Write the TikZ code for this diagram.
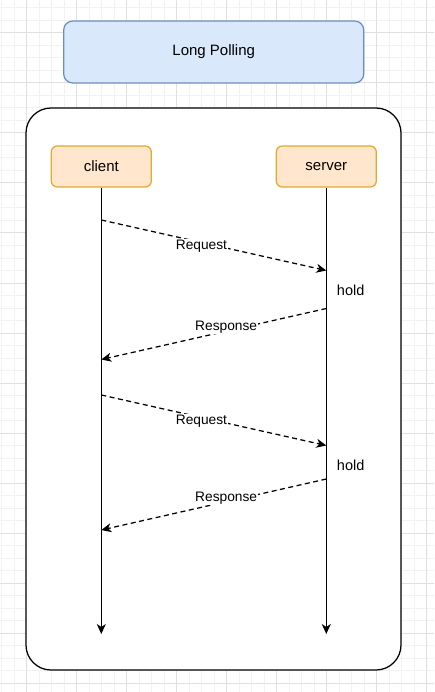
\documentclass[tikz,border=0pt]{standalone}
\usepackage{xcolor}
\usepackage{fontspec}
\setmainfont{Liberation Sans}
\usepackage{tikz}
\usetikzlibrary{arrows.meta, positioning}

\definecolor{titlefill}{HTML}{DAE8FC}
\definecolor{titledraw}{HTML}{6C8EBF}
\definecolor{actorfill}{HTML}{FFE6CC}
\definecolor{actordraw}{HTML}{E0AA2E}
\definecolor{gridminor}{HTML}{F2F2F2}
\definecolor{gridmajor}{HTML}{E0E0E0}

\begin{document}
\begin{tikzpicture}[
        x=1pt, y=-1pt,
        title/.style={rectangle, rounded corners=9pt, draw=titledraw, fill=titlefill, line width=1.25pt, minimum width=300pt, minimum height=62pt, font=\fontsize{15}{18}\selectfont},
        frame/.style={rectangle, rounded corners=25pt, draw=black, fill=white, line width=1.25pt, minimum width=375pt, minimum height=562pt},
        actor/.style={rectangle, rounded corners=6pt, draw=actordraw, fill=actorfill, line width=1.25pt, minimum width=100pt, minimum height=41pt, font=\fontsize{15}{18}\selectfont},
        life/.style={-{Stealth[length=10pt, width=9pt, inset=3pt]}, line width=1.25pt},
        msg/.style={-{Stealth[length=10pt, width=9pt, inset=3pt]}, dash pattern=on 5pt off 3.5pt, line width=1.25pt},
        lbl/.style={fill=white, inner sep=0.5pt, font=\fontsize{13.75}{16}\selectfont},
        holdtxt/.style={font=\fontsize{14.5}{17}\selectfont}
    ]
    \useasboundingbox (0,0) rectangle (434,692);

    % --- Background grid ---
    \fill[white] (0,0) rectangle (434,692);
    \foreach \gx in {1.7,14.2,...,434} \draw[gridminor, line width=1pt] (\gx,0) -- (\gx,692);
    \foreach \gy in {8,20.5,...,692} \draw[gridminor, line width=1pt] (0,\gy) -- (434,\gy);
    \foreach \gx in {26.7,76.7,...,434} \draw[gridmajor, line width=1pt] (\gx,0) -- (\gx,692);
    \foreach \gy in {33,83,...,692} \draw[gridmajor, line width=1pt] (0,\gy) -- (434,\gy);

    % --- Nodes ---
    \node[title] (polling) at (213.7,52) {Long Polling};
    \node[frame] (box) at (213.5,389) {};

    \node[actor] (client) at (101.3,166.5) {client};
    \node[actor, right=123.75pt of client] (server) {server};

    % lifeline ends
    \coordinate (clientEnd) at (101.3,634);
    \coordinate (serverEnd) at (326.3,634);

    % message end points
    \coordinate (req1a) at (101.3,220);
    \coordinate (req1b) at (326.3,270.5);
    \coordinate (res1a) at (326.3,308.5);
    \coordinate (res1b) at (101.3,359.5);
    \coordinate (req2a) at (101.3,395);
    \coordinate (req2b) at (326.3,445.5);
    \coordinate (res2a) at (326.3,479);
    \coordinate (res2b) at (101.3,530);

    % hold
    \node[holdtxt] (hold1) at (350.7,290) {hold};
    \node[holdtxt] (hold2) at (350.7,465) {hold};

    % --- Lifelines ---
    \draw[life] (client) -- (clientEnd);
    \draw[life] (server) -- (serverEnd);

    % --- Messages ---
    \draw[msg] (req1a) -- node[lbl, pos=0.445, yshift=-3.5pt] {Request} (req1b);
    \draw[msg] (res1a) -- node[lbl, pos=0.445, yshift=3.5pt] {Response} (res1b);
    \draw[msg] (req2a) -- node[lbl, pos=0.445, yshift=-3.5pt] {Request} (req2b);
    \draw[msg] (res2a) -- node[lbl, pos=0.445, yshift=3.5pt] {Response} (res2b);

\end{tikzpicture}
\end{document}
